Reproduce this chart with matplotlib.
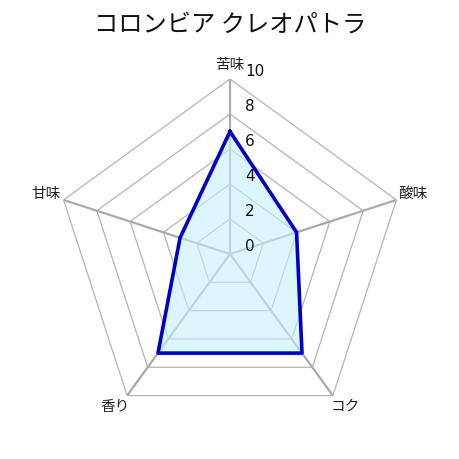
import numpy as np
import matplotlib
matplotlib.use('Agg')
import matplotlib.pyplot as plt

plt.rcParams['font.family'] = ['Noto Sans CJK JP', 'DejaVu Sans']

title = 'コロンビア クレオパトラ'
labels = ['苦味', '酸味', 'コク', '香り', '甘味']
values = [7, 4, 7, 7, 3]
ticks = [0, 2, 4, 6, 8, 10]

n = len(labels)
angles = np.arange(n) * 2 * np.pi / n
ang_c = np.append(angles, angles[0])
val_c = np.append(values, values[0])

fig = plt.figure(figsize=(4.6, 4.6), dpi=100)
ax = fig.add_axes([55/460, 30/460, 350/460, 350/460], projection='polar')
ax.set_theta_offset(np.pi / 2)
ax.set_theta_direction(-1)
ax.set_ylim(0, 10)
ax.grid(False)
ax.spines['polar'].set_visible(False)
ax.set_xticks([])
ax.set_yticks([])
ax.patch.set_alpha(0)

# rings
for r in ticks[1:]:
    ax.plot(ang_c, [r] * (n + 1), color='#b4b4b4', lw=0.9, zorder=1)
# spokes
for a in angles:
    ax.plot([a, a], [0, 10], color='#aaaaaa', lw=1.6, zorder=1)

ax.fill(ang_c, val_c, color='#c4f1fc', alpha=0.6, zorder=2)
ax.plot(ang_c, val_c, color='#0000cc', lw=2.6, zorder=3)

# tick labels along top axis
for r in ticks:
    ax.annotate(str(r), xy=(0, r), xytext=(11, 6), textcoords='offset points',
                ha='left', va='center', fontsize=11, color='#111111',
                family=['DejaVu Sans'], zorder=4)

# axis labels
offsets = [(0, 14), (16, 7), (12, -10), (-12, -10), (-17, 7)]
for a, lab, (dx, dy) in zip(angles, labels, offsets):
    ax.annotate(lab, xy=(a, 10), xytext=(dx * 0.75, dy * 0.75),
                textcoords='offset points', ha='center', va='center',
                fontsize=10.5, color='#222222', annotation_clip=False)

fig.text(0.5, 1 - 25/460, title, ha='center', va='center', fontsize=17.5,
         color='#111111')

fig.savefig('out.png', dpi=100)
